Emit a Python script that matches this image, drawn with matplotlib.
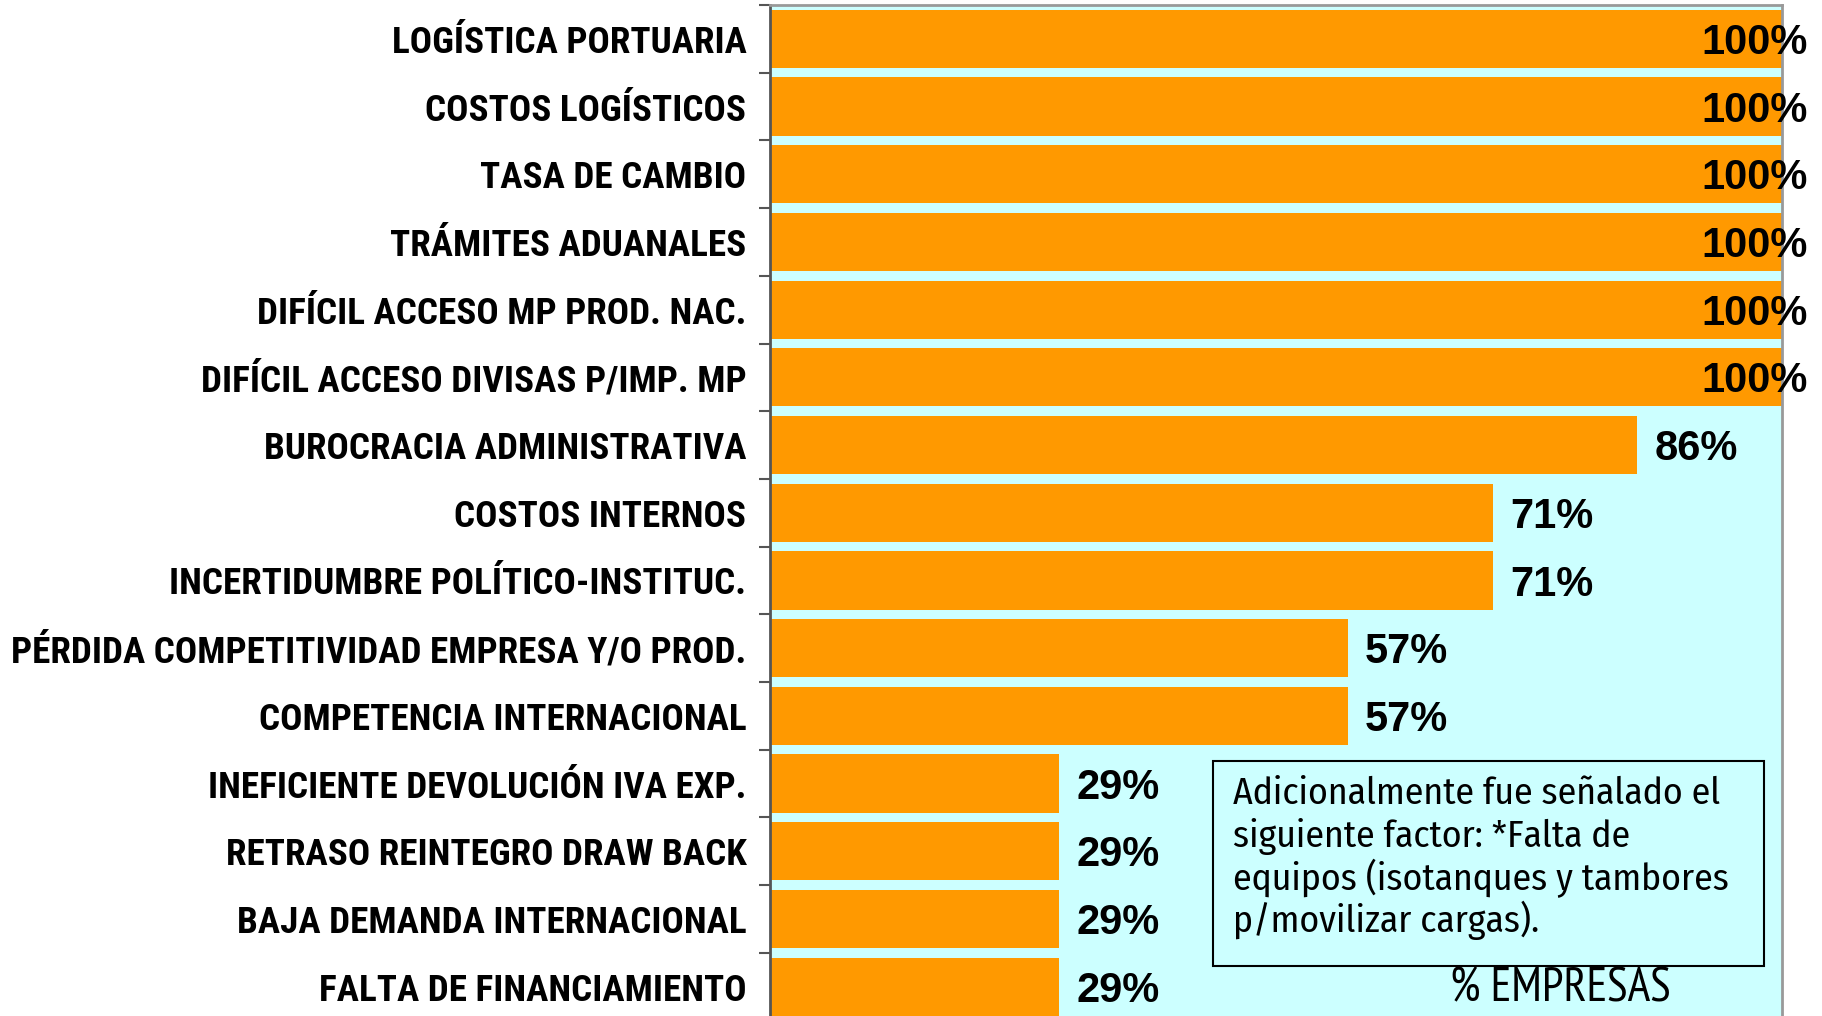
import matplotlib
matplotlib.use("Agg")
import matplotlib.pyplot as plt
from matplotlib import font_manager as fm
from matplotlib.ticker import FixedLocator

categories = [
    "LOGÍSTICA PORTUARIA",
    "COSTOS LOGÍSTICOS",
    "TASA DE CAMBIO",
    "TRÁMITES ADUANALES",
    "DIFÍCIL ACCESO MP PROD. NAC.",
    "DIFÍCIL ACCESO DIVISAS P/IMP. MP",
    "BUROCRACIA ADMINISTRATIVA",
    "COSTOS INTERNOS",
    "INCERTIDUMBRE POLÍTICO-INSTITUC.",
    "PÉRDIDA COMPETITIVIDAD EMPRESA Y/O PROD.",
    "COMPETENCIA INTERNACIONAL",
    "INEFICIENTE DEVOLUCIÓN IVA EXP.",
    "RETRASO REINTEGRO DRAW BACK",
    "BAJA DEMANDA INTERNACIONAL",
    "FALTA DE FINANCIAMIENTO",
]
values = [1.000, 1.000, 1.000, 1.000, 1.000, 1.000, 0.857, 0.714, 0.714,
          0.571, 0.571, 0.286, 0.286, 0.286, 0.286]
value_labels = ["100%", "100%", "100%", "100%", "100%", "100%", "86%", "71%", "71%",
                "57%", "57%", "29%", "29%", "29%", "29%"]
note_text = ("Adicionalmente fue señalado el\nsiguiente factor: *Falta de\n"
             "equipos (isotanques y tambores\np/movilizar cargas).")
axis_title = "% EMPRESAS"

names = {f.name for f in fm.fontManager.ttflist}
def pick(*cands):
    for c in cands:
        if c in names:
            return c
    return "DejaVu Sans"
label_font = pick("Roboto Condensed", "PT Sans Narrow", "DejaVu Sans")
note_font = pick("Fira Sans Condensed", "PT Sans Narrow", "DejaVu Sans")
title_font = pick("PT Sans Narrow", "Roboto Condensed", "DejaVu Sans")
arial = pick("Liberation Sans", "Arimo", "DejaVu Sans")

W, H = 1822, 1016
fig = plt.figure(figsize=(W / 100, H / 100), dpi=100)
fig.patch.set_facecolor("white")
renderer = fig.canvas.get_renderer()

def fit_size(text, family, weight, target_px, base=30):
    t = fig.text(0, 0, text, fontfamily=family, fontweight=weight, fontsize=base)
    w = t.get_window_extent(renderer).width
    t.remove()
    return base * target_px / w

ax_l, ax_r, ax_t, ax_b = 770, 1782, 5, 1020.5
ax = fig.add_axes([ax_l / W, 1 - ax_b / H, (ax_r - ax_l) / W, (ax_b - ax_t) / H])
ax.set_facecolor("#CCFFFF")

y = list(range(len(categories)))
ax.barh(y, values, height=0.86, color="#FF9900", edgecolor="none", zorder=2)
ax.set_xlim(0, 1)
ax.set_ylim(len(categories) - 0.5, -0.5)

longest = max(categories, key=len)
lab_size = fit_size(longest, label_font, "bold", 734)
ax.set_yticks(y)
ax.set_yticklabels(categories, fontfamily=label_font, fontweight="bold", fontsize=lab_size)
ax.tick_params(axis="y", which="major", length=0, pad=17)
ax.yaxis.set_minor_locator(FixedLocator([i - 0.5 for i in range(len(categories) + 1)]))
ax.tick_params(axis="y", which="minor", length=8, width=1.5, color="#555555")
ax.set_xticks([])

ax.spines["left"].set_color("#555555")
ax.spines["left"].set_linewidth(2)
for s in ["top", "right"]:
    ax.spines[s].set_color("#999999")
    ax.spines[s].set_linewidth(2)
ax.spines["bottom"].set_visible(False)

for yi, v, lab in zip(y, values, value_labels):
    if v >= 1.0:
        x, ha = 1.025, "right"
    else:
        x, ha = v + 0.017, "left"
    ax.text(x, yi + 0.06, lab, ha=ha, va="center", fontfamily=arial, fontweight="bold",
            fontsize=30, color="black", zorder=3, clip_on=False)

# note box
fig.patches.append(plt.Rectangle((1213 / W, 1 - 966 / H), (1764 - 1213) / W, (966 - 761) / H,
                                 transform=fig.transFigure, facecolor="none",
                                 edgecolor="black", linewidth=1.5, zorder=5))
note_size = fit_size(note_text.split("\n")[2], note_font, "normal", 1729 - 1233)
line_px = 42.2
note_lines = note_text.split("\n")
for i, line in enumerate(note_lines):
    fig.text(1233 / W, 1 - (790 + i * line_px) / H, line, ha="left", va="center_baseline",
             fontfamily=note_font, fontsize=note_size, color="black", zorder=6)

title_size = fit_size(axis_title, title_font, "normal", 1670 - 1450)
fig.text(1560 / W, 1 - 1001 / H, axis_title, ha="center", va="baseline", fontfamily=title_font,
         fontsize=title_size, color="black")

fig.savefig("out.png", dpi=100, facecolor="white")
